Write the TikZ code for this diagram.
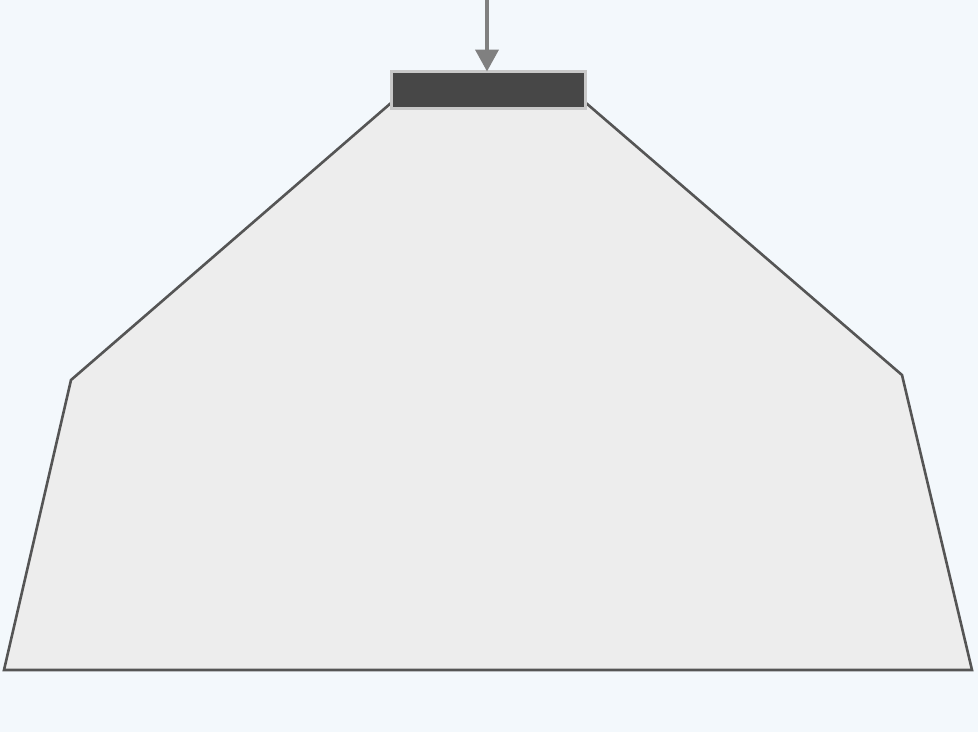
\documentclass[tikz,border=0pt]{standalone}
\usetikzlibrary{arrows.meta}
\definecolor{bgc}{HTML}{F3F8FC}
\definecolor{fillc}{HTML}{EDEDED}
\definecolor{edgec}{HTML}{555555}
\definecolor{darkc}{HTML}{474747}
\definecolor{rimc}{HTML}{C8C8C8}
\definecolor{arrc}{HTML}{808080}
\tikzset{
  hull/.style={fill=fillc, draw=edgec, line width=2.6pt, line join=miter},
  cap box/.style={rectangle, fill=darkc, draw=rimc, line width=3pt, minimum width=194pt, minimum height=37pt, inner sep=0pt, outer sep=0pt},
  feed/.style={draw=arrc, line width=4pt, -{Triangle[width=23pt,length=22pt]}}
}
\begin{document}
\begin{tikzpicture}[x=1pt,y=-1pt]
  \fill[bgc] (0,0) rectangle (978,732);
  \useasboundingbox (0,0) rectangle (978,732);
  \draw[hull] (391,103) -- (71,380) -- (4,670) -- (972,670) -- (902,375) -- (586,103);
  \node[cap box] (cap) at (488.5,90) {};
  \coordinate (src) at (487,0);
  \draw[feed] (src) -- (src |- cap.north);
\end{tikzpicture}
\end{document}
